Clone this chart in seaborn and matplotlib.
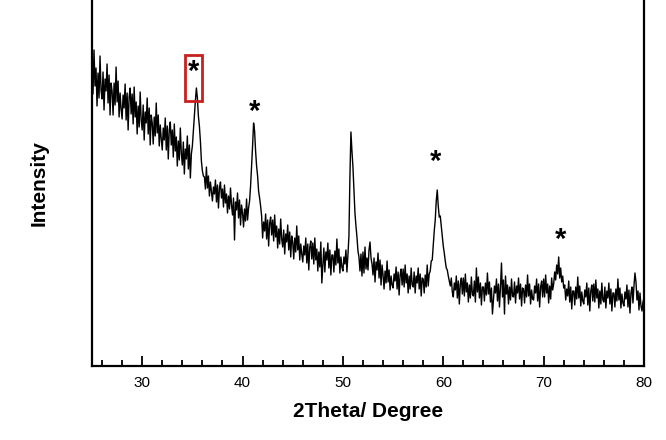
import numpy as np
import pandas as pd
import matplotlib
matplotlib.use("Agg")
import matplotlib.pyplot as plt
from matplotlib.patches import Rectangle
from matplotlib.ticker import MultipleLocator
import seaborn as sns

# ---- data (intensity in arbitrary units) ----
two_theta_start = 25.0
two_theta_step = 0.1
intensity = [
    308, 272, 316, 280, 298, 260, 293, 268, 310, 276,   # 25
    267, 294, 256, 287, 275, 302, 263, 291, 251, 283,   # 26
    275, 251, 283, 261, 299, 264, 285, 249, 273, 257,   # 27
    247, 271, 258, 282, 246, 273, 236, 269, 278, 252,   # 28
    272, 242, 279, 249, 264, 232, 260, 239, 274, 246,   # 29
    236, 261, 226, 254, 243, 268, 232, 258, 221, 251,   # 30
    243, 222, 249, 230, 263, 233, 251, 220, 241, 227,   # 31
    216, 238, 226, 248, 216, 240, 207, 236, 244, 221,   # 32
    236, 209, 242, 215, 229, 200, 225, 206, 238, 213,   # 33
    201, 224, 192, 217, 207, 230, 197, 221, 188, 212,   # 34
    220, 235, 250, 265, 278, 268, 250, 240, 225, 205,   # 35
    195, 190, 189, 177, 199, 178, 190, 170, 184, 175,   # 36
    165, 179, 172, 186, 164, 181, 158, 178, 184, 168,   # 37
    177, 159, 181, 163, 172, 153, 170, 157, 178, 161,   # 38
    151, 168, 126, 164, 156, 173, 148, 166, 141, 161,   # 39
    153, 139, 157, 145, 167, 146, 158, 165, 180, 200,   # 40
    220, 243, 235, 215, 200, 190, 175, 168, 160, 150,   # 41
    128, 144, 135, 152, 127, 146, 120, 143, 149, 131,   # 42
    146, 125, 151, 129, 140, 118, 137, 122, 147, 127,   # 43
    119, 136, 112, 132, 124, 141, 116, 134, 109, 130,   # 44
    124, 107, 128, 114, 140, 116, 130, 106, 122, 112,   # 45
    104, 120, 111, 128, 103, 122, 96, 119, 125, 107,    # 46
    123, 102, 128, 106, 117, 95, 114, 99, 124, 83,      # 47
    101, 118, 94, 114, 106, 123, 98, 116, 91, 111,      # 48
    111, 94, 115, 101, 127, 103, 117, 93, 109, 99,      # 49
    95, 109, 102, 116, 94, 111, 130, 190, 234, 215,     # 50
    199, 175, 153, 140, 129, 115, 109, 95, 112, 90,     # 51
    114, 93, 119, 97, 108, 96, 116, 124, 108, 102,      # 52
    91, 108, 84, 104, 96, 113, 88, 106, 81, 101,        # 53
    91, 77, 95, 83, 105, 84, 96, 76, 90, 81,            # 54
    78, 92, 85, 99, 77, 94, 71, 91, 97, 81,             # 55
    97, 79, 101, 83, 92, 73, 90, 77, 98, 81,            # 56
    79, 94, 73, 90, 83, 98, 77, 92, 70, 88,             # 57
    87, 73, 91, 79, 101, 80, 92, 95, 105, 106,          # 58
    120, 135, 146, 165, 176, 160, 149, 150, 140, 129,   # 59
    120, 113, 105, 98, 96, 90, 85, 80, 88, 74,          # 60
    69, 83, 76, 90, 68, 85, 62, 82, 88, 72,             # 61
    88, 70, 92, 74, 83, 64, 81, 68, 89, 72,             # 62
    70, 85, 64, 98, 74, 89, 68, 83, 61, 79,             # 63
    79, 65, 83, 71, 93, 72, 84, 64, 78, 52,             # 64
    66, 80, 73, 87, 65, 82, 59, 79, 103, 69,            # 65
    86, 52, 90, 72, 81, 62, 79, 66, 87, 70,             # 66
    69, 84, 63, 80, 73, 88, 67, 82, 60, 78,             # 67
    77, 63, 81, 69, 91, 70, 82, 62, 76, 67,             # 68
    66, 80, 73, 87, 65, 82, 59, 79, 85, 69,             # 69
    87, 69, 91, 73, 82, 63, 80, 67, 88, 76,             # 70
    82, 94, 86, 101, 92, 109, 88, 98, 84, 90,           # 71
    78, 81, 66, 77, 70, 85, 64, 79, 57, 75,             # 72
    75, 61, 79, 67, 89, 68, 80, 60, 74, 65,             # 73
    62, 76, 69, 83, 61, 78, 55, 75, 81, 65,             # 74
    82, 64, 86, 68, 77, 58, 75, 62, 83, 66,             # 75
    64, 79, 58, 75, 68, 83, 62, 77, 55, 73,             # 76
    73, 59, 77, 65, 87, 66, 78, 58, 72, 63,             # 77
    60, 74, 67, 81, 59, 76, 53, 73, 79, 63,             # 78
    80, 93, 84, 66, 75, 56, 73, 60, 55, 64,             # 79
    68,                                                 # 80
]
two_theta = [round(two_theta_start + i * two_theta_step, 2) for i in range(len(intensity))]

star_x = [35.1, 41.15, 59.2, 71.7]
star_y = [294, 254, 204, 126]
box_x = [34.3, 36.0]
box_y = [265, 311]

x_ticks = [30, 40, 50, 60, 70, 80]
x_label = "2Theta/ Degree"
y_label = "Intensity"

# ---- plot ----
sns.set_style("ticks")
plt.rcParams["font.family"] = ["Liberation Sans", "DejaVu Sans"]
plt.rcParams["text.color"] = "black"
plt.rcParams["axes.labelcolor"] = "black"
plt.rcParams["xtick.color"] = "black"

W, H = 666, 440
fig = plt.figure(figsize=(W / 100, H / 100), dpi=100)
ax = fig.add_axes([92 / W, (H - 366) / H, (644 - 92) / W, 366 / H])

df = pd.DataFrame({"two_theta": two_theta, "intensity": intensity})
sns.lineplot(data=df, x="two_theta", y="intensity", ax=ax, color="black",
             lw=1.0, sort=False, estimator=None)

ax.set_xlim(25, 80)
ax.set_ylim(0, 366)
ax.set_xticks(x_ticks)
ax.set_xticklabels([str(t) for t in x_ticks], fontsize=11, color="black")
ax.xaxis.set_minor_locator(MultipleLocator(2))
ax.tick_params(axis="x", which="major", direction="in", length=7, width=1.3, pad=7,
               colors="black")
ax.tick_params(axis="x", which="minor", direction="in", length=4, width=1.3,
               colors="black")
ax.set_yticks([])
ax.spines["top"].set_visible(False)
for s in ["left", "right", "bottom"]:
    ax.spines[s].set_linewidth(1.6)
    ax.spines[s].set_color("black")
    ax.spines[s].set_visible(True)

ax.set_xlabel(x_label, fontsize=15, fontweight="bold", labelpad=9, color="black")
ax.set_ylabel(y_label, fontsize=15, fontweight="bold", labelpad=31, color="black")

for sx, sy in zip(star_x, star_y):
    ax.text(sx, sy, "*", fontsize=21, fontweight="bold", ha="center", va="center",
            color="black")

ax.add_patch(Rectangle((box_x[0], box_y[0]), box_x[1] - box_x[0], box_y[1] - box_y[0],
                       fill=False, edgecolor="#c8201e", lw=2.0, zorder=5))

fig.savefig("out.png", dpi=100)
